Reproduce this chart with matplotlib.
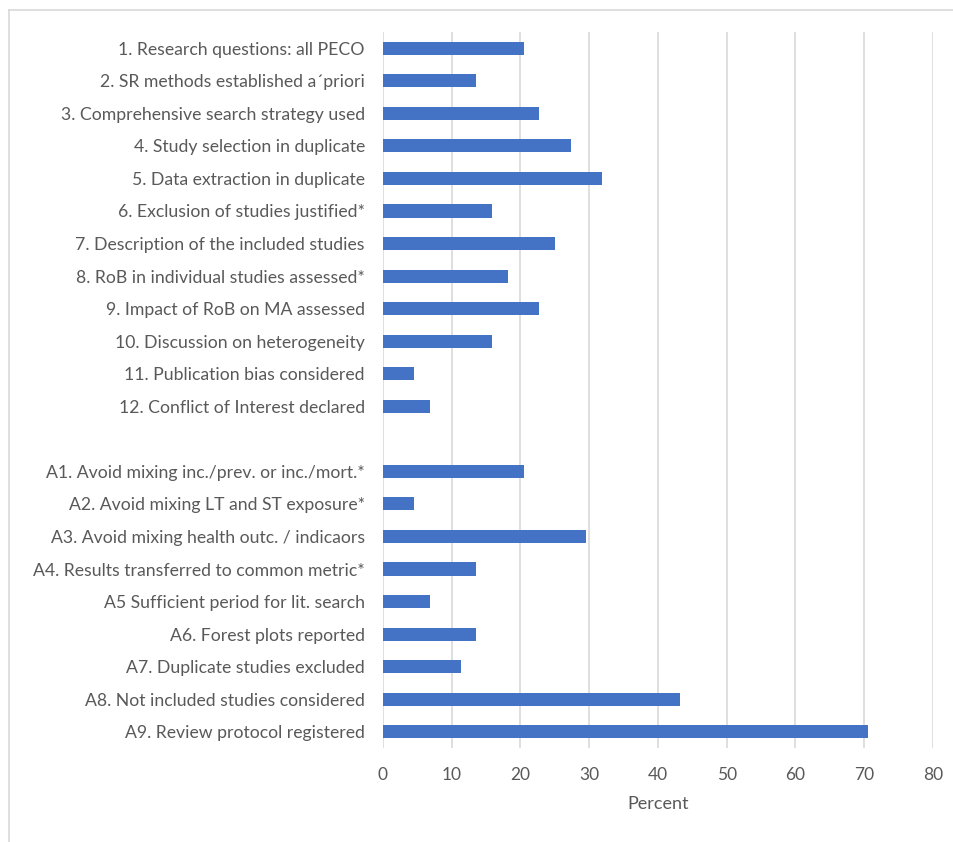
import matplotlib.pyplot as plt
import numpy as np
from matplotlib.lines import Line2D

plt.rcParams['font.family'] = ['Lato', 'DejaVu Sans']

core_labels = [
    '1. Research questions: all PECO',
    '2. SR methods established a\u00b4priori',
    '3. Comprehensive search strategy used',
    '4. Study selection in duplicate',
    '5. Data extraction in duplicate',
    '6. Exclusion of studies justified*',
    '7. Description of the included studies',
    '8. RoB in individual studies assessed*',
    '9. Impact of RoB on MA assessed',
    '10. Discussion on heterogeneity',
    '11. Publication bias considered',
    '12. Conflict of Interest declared',
]
core_values = [20.5, 13.6, 22.7, 27.3, 31.8, 15.9, 25.0, 18.2, 22.7, 15.9, 4.5, 6.8]

add_labels = [
    'A1. Avoid mixing inc./prev. or inc./mort.*',
    'A2. Avoid mixing LT and ST exposure*',
    'A3. Avoid mixing health outc. / indicaors',
    'A4. Results transferred to common metric*',
    'A5 Sufficient period for lit. search',
    'A6. Forest plots reported',
    'A7. Duplicate studies excluded',
    'A8. Not included studies considered',
    'A9. Review protocol registered',
]
add_values = [20.5, 4.5, 29.5, 13.6, 6.8, 13.6, 11.4, 43.2, 70.5]

labels = core_labels + add_labels
values = core_values + add_values
# one empty row between the two groups
pos = list(range(len(core_labels))) + [len(core_labels) + 1 + i for i in range(len(add_labels))]

fig = plt.figure(figsize=(9.54, 8.42), dpi=100)
# light frame (top and left edges only visible)
fy = 1 - 9.5 / 842
fx = 9.5 / 954
fig.lines.append(Line2D([fx, 1], [fy, fy], transform=fig.transFigure, color='#d9d9d9', lw=1.2))
fig.lines.append(Line2D([fx, fx], [0, fy], transform=fig.transFigure, color='#d9d9d9', lw=1.2))

ax = fig.add_axes([383 / 954, 94 / 842, 550 / 954, 716 / 842])

ax.barh(pos, values, height=0.4, color='#4472C4', zorder=3)
ax.set_yticks(pos)
ax.set_yticklabels(labels)
ax.set_ylim(len(pos) + 0.5, -0.5)
ax.set_xlim(0, 80)
ax.set_xticks(np.arange(0, 81, 10))
ax.grid(axis='x', color='#d9d9d9', linewidth=1.2, zorder=0)
for s in ax.spines.values():
    s.set_visible(False)
ax.tick_params(axis='both', length=0, colors='#595959')
ax.tick_params(axis='y', pad=13, labelsize=12.7)
ax.tick_params(axis='x', pad=14, labelsize=12.5)
ax.set_xlabel('Percent', fontsize=13, color='#595959', labelpad=9)

plt.savefig('out.png', dpi=100)
